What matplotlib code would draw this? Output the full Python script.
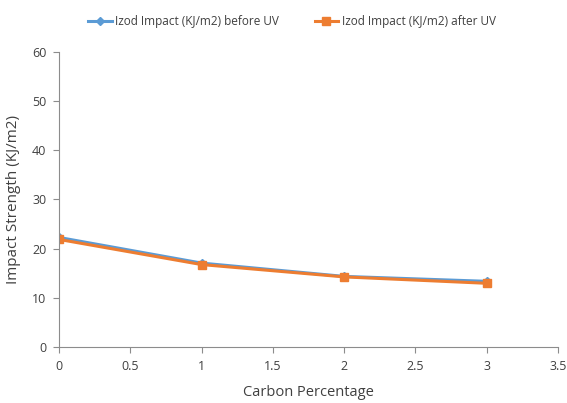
import matplotlib
matplotlib.use("Agg")
import matplotlib.pyplot as plt

plt.rcParams['font.family'] = ['Open Sans', 'DejaVu Sans']

carbon = [0, 1, 2, 3]
before_uv = [22.3, 17.1, 14.4, 13.4]
after_uv = [21.9, 16.8, 14.3, 13.0]

fig = plt.figure(figsize=(5.67, 4.03), dpi=100)
ax = fig.add_axes([0.104, 0.138, 0.880, 0.734])

ax.plot(carbon, before_uv, color='#5B9BD5', marker='D', markersize=4, lw=2.2,
        label='Izod Impact (KJ/m2) before UV')
ax.plot(carbon, after_uv, color='#ED7D31', marker='s', markersize=6, lw=2.2,
        label='Izod Impact (KJ/m2) after UV')

ax.set_xlim(0, 3.5)
ax.set_ylim(0, 60)
ax.set_xticks([0, 0.5, 1, 1.5, 2, 2.5, 3, 3.5])
ax.set_xticklabels(['0', '0.5', '1', '1.5', '2', '2.5', '3', '3.5'])
ax.set_yticks(range(0, 61, 10))

for s in ['top', 'right']:
    ax.spines[s].set_visible(False)
for s in ['left', 'bottom']:
    ax.spines[s].set_color('#8c8c8c')
ax.tick_params(colors='#8c8c8c', labelcolor='#404040', labelsize=9, length=4, pad=5)

ax.set_xlabel('Carbon Percentage', fontsize=10.5, color='#404040', labelpad=9)
ax.set_ylabel('Impact Strength (KJ/m2)', fontsize=11, color='#404040', labelpad=8)

fig.legend(loc='upper center', bbox_to_anchor=(0.515, 0.99), ncol=2, frameon=False,
           fontsize=8.5, handlelength=2, handletextpad=0.3, columnspacing=3,
           labelcolor='#404040')

plt.savefig('out.png', dpi=100)
